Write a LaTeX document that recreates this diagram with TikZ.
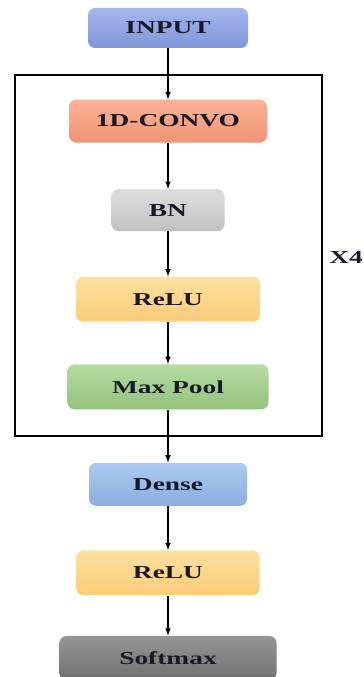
\documentclass[tikz,border=0pt]{standalone}
\usepackage{fontspec}
\setmainfont[FakeStretch=1.5]{Liberation Serif}
\usepackage{xcolor}
\usepackage{tikz}
\usetikzlibrary{arrows, positioning}
\definecolor{inTop}{RGB}{165,182,236}
\definecolor{inBot}{RGB}{128,150,218}
\definecolor{convTop}{RGB}{250,178,150}
\definecolor{convBot}{RGB}{240,148,118}
\definecolor{bnTop}{RGB}{222,222,222}
\definecolor{bnBot}{RGB}{192,192,192}
\definecolor{reluTop}{RGB}{255,224,160}
\definecolor{reluBot}{RGB}{250,204,120}
\definecolor{poolTop}{RGB}{182,220,162}
\definecolor{poolBot}{RGB}{145,194,125}
\definecolor{denseTop}{RGB}{172,202,240}
\definecolor{denseBot}{RGB}{138,174,224}
\definecolor{softTop}{RGB}{150,150,150}
\definecolor{softBot}{RGB}{112,112,112}
\definecolor{ink}{RGB}{25,25,40}
\tikzset{
  layer/.style={rounded corners=5pt, inner sep=0pt, text=ink,
    font=\bfseries\fontsize{13}{15}\selectfont},
  tint/.style 2 args={top color=#1, bottom color=#2},
  flow/.style={-latex, line width=0.8pt}
}

\begin{document}
\begin{tikzpicture}
\useasboundingbox (0,0) rectangle (9.1,-16.925);
\node[layer, tint={inTop}{inBot}, minimum width=4cm, minimum height=1cm] (in) at (4.2,-0.7) {INPUT};
\node[layer, tint={convTop}{convBot}, minimum width=4.95cm, minimum height=1.075cm, below=1.275cm of in] (conv) {1D-CONVO};
\node[layer, tint={bnTop}{bnBot}, minimum width=2.825cm, minimum height=1.05cm, below=1.15cm of conv] (bn) {BN};
\node[layer, tint={reluTop}{reluBot}, minimum width=4.6cm, minimum height=1.125cm, below=1.125cm of bn] (relu) {ReLU};
\node[layer, tint={poolTop}{poolBot}, minimum width=5.025cm, minimum height=1.125cm, below=1.05cm of relu] (pool) {Max Pool};
\node[layer, tint={denseTop}{denseBot}, minimum width=3.95cm, minimum height=1.075cm, below=1.325cm of pool] (dense) {Dense};
\node[layer, tint={reluTop}{reluBot}, minimum width=4.575cm, minimum height=1.125cm, below=1.1cm of dense] (reluout) {ReLU};
\node[layer, tint={softTop}{softBot}, minimum width=5.425cm, minimum height=1.1cm, below=1cm of reluout] (soft) {Softmax};
\draw[line width=0.8pt] (0.375,-1.875) rectangle (8.05,-10.9);
\node[text=ink, font=\bfseries\fontsize{13}{15}\selectfont] (rep) at (8.65,-6.43) {X4};
\draw[flow] (in) -- (conv);
\draw[flow] (conv) -- (bn);
\draw[flow] (bn) -- (relu);
\draw[flow] (relu) -- (pool);
\draw[flow] (pool) -- (dense);
\draw[flow] (dense) -- (reluout);
\draw[flow] (reluout) -- (soft);
\end{tikzpicture}
\end{document}
